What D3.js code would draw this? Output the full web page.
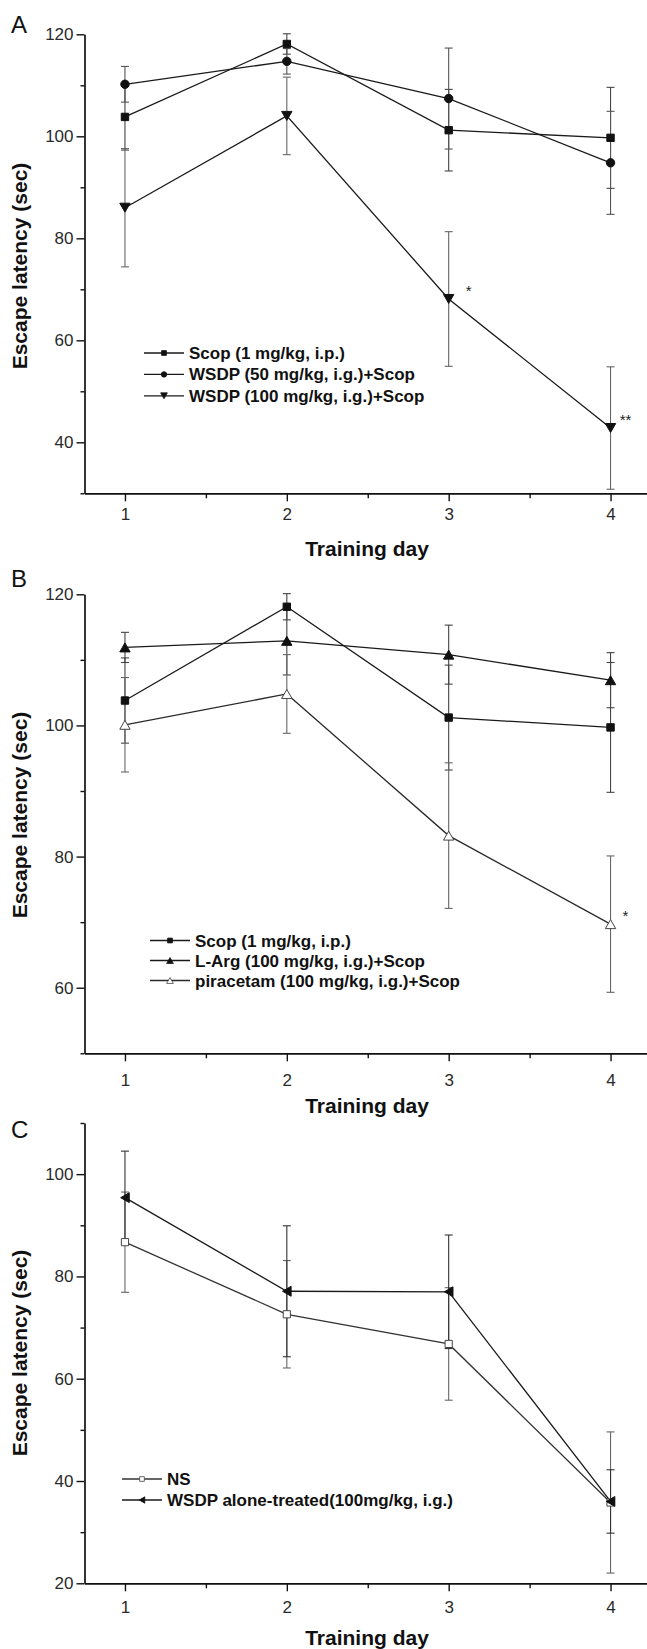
<!DOCTYPE html>
<html>
<head>
<meta charset="utf-8">
<script src="https://cdnjs.cloudflare.com/ajax/libs/d3/7.8.5/d3.min.js"></script>
<style>
  body { margin: 0; background: #fff; }
  svg { display: block; font-family: "Liberation Sans", Arial, Helvetica, sans-serif; }
  .domain { stroke: #111; stroke-width: 1.7; }
  .tick line { stroke: #111; stroke-width: 1.4; }
  .tick text { font-size: 17px; fill: #2a2a2a; }
</style>
</head>
<body>
<div class="container"></div>
<script>
const days = [1, 2, 3, 4];
const minorDays = [1.5, 2.5, 3.5];

// Panel A
const scopValues = [103.8, 118.1, 101.2, 99.7];
const scopErrors = [6.5, 2.0, 8.0, 9.9];
const wsdp50Values = [110.2, 114.7, 107.4, 94.8];
const wsdp50Errors = [3.5, 2.5, 9.9, 10.1];
const wsdp100Values = [86.0, 104.0, 68.1, 42.8];
const wsdp100Errors = [11.6, 7.6, 13.2, 12.0];
const wsdp100Marks = ["", "", "*", "**"];

// Panel B
const largValues = [111.9, 112.9, 110.8, 106.9];
const largErrors = [2.3, 5.2, 4.5, 4.2];
const piracetamValues = [100.1, 104.8, 83.2, 69.7];
const piracetamErrors = [7.2, 6.0, 11.1, 10.4];
const piracetamMarks = ["", "", "", "*"];

// Panel C
const nsValues = [86.7, 72.6, 66.8, 35.8];
const nsErrors = [9.8, 10.5, 11.0, 13.8];
const wsdpAloneValues = [95.4, 77.1, 77.0, 36.0];
const wsdpAloneErrors = [9.1, 12.8, 11.1, 6.2];

const ticksA = [40, 60, 80, 100, 120];
const minorA = [30, 50, 70, 90, 110];
const ticksB = [60, 80, 100, 120];
const minorB = [50, 70, 90, 110];
const ticksC = [20, 40, 60, 80, 100];
const minorC = [30, 50, 70, 90, 110];

const xTitle = "Training day";
const yTitle = "Escape latency (sec)";

const w = 647, h = 1649;
const svg = d3.select(".container").append("svg")
    .attr("width", w).attr("height", h);

/* marker shapes, centred on the point */
const shapes = {
    square: (s) => `M${-s},${-s}H${s}V${s}H${-s}Z`,
    circle: (s) => d3.symbol(d3.symbolCircle, Math.PI * s * s)(),
    triDown: (s) => `M${-s * 1.15},${-s}H${s * 1.15}L0,${s}Z`,
    triUp: (s) => `M${-s * 1.15},${s}H${s * 1.15}L0,${-s}Z`,
    triLeft: (s) => `M${-s},0L${s},${-s * 1.15}V${s * 1.15}Z`
};

const x = d3.scaleLinear().domain([0.75, 4.25]).range([84.5, 651]);

const panels = [
    {
        letter: "A", letterY: 33,
        yDomain: [30, 120], yRange: [493.3, 34.3],
        ticks: ticksA, minor: minorA,
        xPad: 7, xTitleY: 556, yTitleY: 266,
        legend: { x: 144, y: 353, step: 21.4 },
        series: [
            { name: "Scop (1 mg/kg, i.p.)", values: scopValues, errors: scopErrors, shape: "square", size: 3.7, fill: "#111", line: "#1a1a1a", bar: "#444" },
            { name: "WSDP (50 mg/kg, i.g.)+Scop", values: wsdp50Values, errors: wsdp50Errors, shape: "circle", size: 4.2, fill: "#111", line: "#1a1a1a", bar: "#555" },
            { name: "WSDP (100 mg/kg, i.g.)+Scop", values: wsdp100Values, errors: wsdp100Errors, marks: wsdp100Marks, shape: "triDown", size: 4.5, fill: "#111", line: "#1a1a1a", bar: "#666" }
        ]
    },
    {
        letter: "B", letterY: 587,
        yDomain: [50, 120], yRange: [1053.3, 594.3],
        ticks: ticksB, minor: minorB,
        xPad: 13, xTitleY: 1113, yTitleY: 815,
        legend: { x: 150, y: 940.5, step: 20 },
        series: [
            { name: "Scop (1 mg/kg, i.p.)", values: scopValues, errors: scopErrors, shape: "square", size: 3.7, fill: "#111", line: "#1a1a1a", bar: "#444" },
            { name: "L-Arg (100 mg/kg, i.g.)+Scop", values: largValues, errors: largErrors, shape: "triUp", size: 4.5, fill: "#111", line: "#1a1a1a", bar: "#444" },
            { name: "piracetam (100 mg/kg, i.g.)+Scop", values: piracetamValues, errors: piracetamErrors, marks: piracetamMarks, shape: "triUp", size: 4.5, fill: "#fff", line: "#2a2a2a", bar: "#666" }
        ]
    },
    {
        letter: "C", letterY: 1138,
        yDomain: [20, 110], yRange: [1583.3, 1123.0],
        ticks: ticksC, minor: minorC,
        xPad: 10, xTitleY: 1645, yTitleY: 1353,
        legend: { x: 122, y: 1479, step: 21 },
        series: [
            { name: "NS", values: nsValues, errors: nsErrors, shape: "square", size: 3.6, fill: "#fff", line: "#333", bar: "#666" },
            { name: "WSDP alone-treated(100mg/kg, i.g.)", values: wsdpAloneValues, errors: wsdpAloneErrors, shape: "triLeft", size: 4.3, fill: "#111", line: "#1a1a1a", bar: "#333" }
        ]
    }
];

panels.forEach((p) => {
    const y = d3.scaleLinear().domain(p.yDomain).range(p.yRange);
    const g = svg.append("g");

    /* y axis, major and minor ticks */
    g.append("g")
        .attr("transform", "translate(" + x(0.75) + ",0)")
        .call(d3.axisLeft(y).tickValues(p.ticks).tickSize(8).tickSizeOuter(0).tickPadding(3));
    g.append("g")
        .attr("transform", "translate(" + x(0.75) + ",0)")
        .call(d3.axisLeft(y).tickValues(p.minor).tickSize(4).tickFormat(""))
        .select(".domain").remove();

    /* x axis */
    g.append("g")
        .attr("transform", "translate(0," + y(p.yDomain[0]) + ")")
        .call(d3.axisBottom(x).tickValues(days).tickSize(8).tickSizeOuter(0).tickPadding(p.xPad).tickFormat(d3.format("d")));
    g.append("g")
        .attr("transform", "translate(0," + y(p.yDomain[0]) + ")")
        .call(d3.axisBottom(x).tickValues(minorDays).tickSize(5).tickFormat(""))
        .select(".domain").remove();

    /* panel letter and titles */
    g.append("text").attr("x", 11).attr("y", p.letterY)
        .attr("font-size", 24).attr("fill", "#111").text(p.letter);
    g.append("text")
        .attr("transform", "translate(27," + p.yTitleY + ") rotate(-90)")
        .attr("text-anchor", "middle").attr("font-size", 21).attr("font-weight", "bold")
        .attr("fill", "#111").text(yTitle);
    g.append("text")
        .attr("x", 367).attr("y", p.xTitleY)
        .attr("text-anchor", "middle").attr("font-size", 21).attr("font-weight", "bold")
        .attr("fill", "#111").text(xTitle);

    /* error bars */
    p.series.forEach((s) => {
        const eb = g.append("g").attr("stroke", s.bar).attr("stroke-width", 1.1).attr("fill", "none");
        days.forEach((d, i) => {
            const cx = x(d);
            const top = y(s.values[i] + s.errors[i]);
            const bot = y(s.values[i] - s.errors[i]);
            eb.append("line").attr("x1", cx).attr("x2", cx).attr("y1", top).attr("y2", bot);
            eb.append("line").attr("x1", cx - 4).attr("x2", cx + 4).attr("y1", top).attr("y2", top);
            eb.append("line").attr("x1", cx - 4).attr("x2", cx + 4).attr("y1", bot).attr("y2", bot);
        });
    });

    /* lines */
    p.series.forEach((s) => {
        const line = d3.line().x((d, i) => x(days[i])).y((d) => y(d));
        g.append("path").datum(s.values)
            .attr("d", line)
            .attr("fill", "none").attr("stroke", s.line).attr("stroke-width", 1.3);
    });

    /* markers */
    p.series.forEach((s) => {
        g.selectAll(null).data(s.values).enter().append("path")
            .attr("transform", (d, i) => "translate(" + x(days[i]) + "," + y(d) + ")")
            .attr("d", shapes[s.shape](s.size))
            .attr("fill", s.fill).attr("stroke", s.fill === "#fff" ? "#444" : "#111").attr("stroke-width", 1);
        if (s.marks) {
            g.selectAll(null).data(s.values).enter().append("text")
                .attr("x", (d, i) => x(days[i]) + (i === 3 ? 15 : 20))
                .attr("y", (d) => y(d) - 3)
                .attr("text-anchor", "middle").attr("font-size", 15).attr("fill", "#222")
                .text((d, i) => s.marks[i]);
        }
    });

    /* legend */
    const lg = g.append("g");
    p.series.forEach((s, i) => {
        const ly = p.legend.y + i * p.legend.step;
        const lx = p.legend.x;
        lg.append("line").attr("x1", lx).attr("x2", lx + 40).attr("y1", ly).attr("y2", ly)
            .attr("stroke", s.line).attr("stroke-width", 1.3);
        lg.append("path").attr("transform", "translate(" + (lx + 20) + "," + ly + ")")
            .attr("d", shapes[s.shape](s.size * 0.65))
            .attr("fill", s.fill).attr("stroke", s.fill === "#fff" ? "#444" : "#111").attr("stroke-width", 0.8);
        lg.append("text").attr("x", lx + 45).attr("y", ly + 6)
            .attr("font-size", 17).attr("font-weight", "bold").attr("fill", "#111")
            .text(s.name);
    });
});
</script>
</body>
</html>
